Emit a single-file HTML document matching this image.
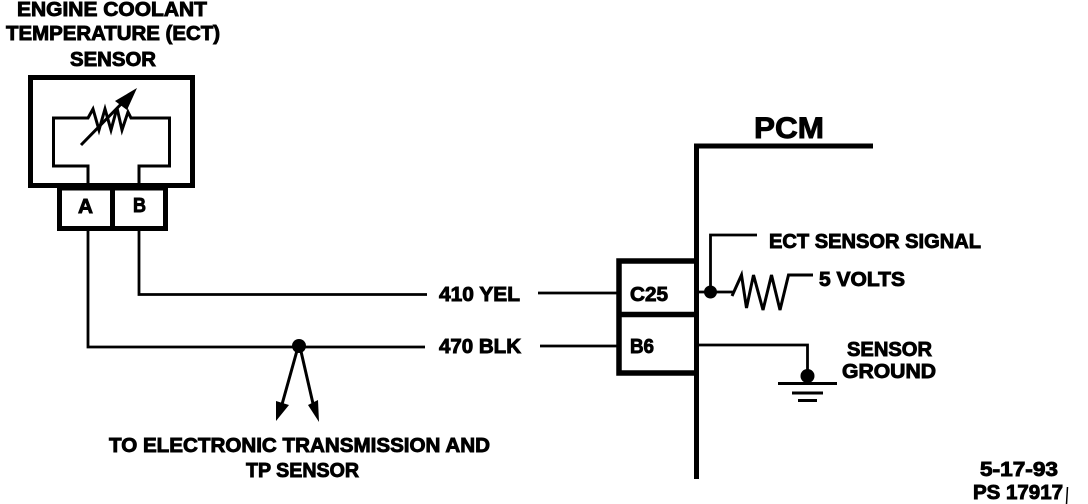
<!DOCTYPE html>
<html><head><meta charset="utf-8"><style>
html,body{margin:0;padding:0;background:#fff;width:1088px;height:504px;overflow:hidden}
svg{display:block}
text{font-family:"Liberation Sans",sans-serif;font-weight:bold;font-size:20px;fill:#000;stroke:#000;stroke-width:.9}
</style></head><body>
<svg width="1088" height="504" viewBox="0 0 1088 504" xmlns="http://www.w3.org/2000/svg">
<g fill="none" stroke="#000" stroke-linejoin="miter">
<rect x="30.5" y="77.500" width="162" height="108" stroke-width="5"/>
<rect x="59.500" y="188" width="106" height="40.500" stroke-width="5"/>
<path d="M112.500 188V228" stroke-width="5"/>
<path d="M88 183V166H53.500V118H88L93 109L99 130L105 109L111 130L117 108L122 130L128 112L131 118H169.500V166H139V183" stroke-width="3"/>
<path d="M81 145L128 97" stroke-width="3"/>
<path d="M88 231V347H425M139 231V294.500H427" stroke-width="2.800"/>
<path d="M538 293H617M540 346H617" stroke-width="2.800"/>
<path d="M696.500 479V146H873" stroke-width="5"/>
<path d="M696 261H619V373H696M619 314.500H696" stroke-width="5.500"/>
<path d="M757 235H710.500V292M699 292H733" stroke-width="2.800"/>
<path d="M732 296L741.500 275L746.500 308L753.500 275L763 310L771.500 275L780 310L788.500 275H813" stroke-width="3"/>
<path d="M699 345H807.500V370" stroke-width="2.800"/>
<path d="M778 383.500H837" stroke-width="3"/>
<path d="M792 393H823" stroke-width="3"/>
<path d="M798 400.500H817" stroke-width="3"/>
<path d="M298 347L281 408M300 347L314 408" stroke-width="3"/>
</g>
<circle cx="710.500" cy="292" r="6.500"/>
<circle cx="807.500" cy="376" r="7"/>
<circle cx="299" cy="346" r="7"/>
<polygon points="137,88 115,101 127,110"/>
<polygon points="276,421 276,401 289,405"/>
<polygon points="319,422 308,405 318,400"/>
<text x="17" y="16" textLength="190" lengthAdjust="spacingAndGlyphs">ENGINE COOLANT</text>
<text x="6" y="40" textLength="214" lengthAdjust="spacingAndGlyphs">TEMPERATURE (ECT)</text>
<text x="70" y="66" textLength="86" lengthAdjust="spacingAndGlyphs">SENSOR</text>
<text x="78" y="213" textLength="15" lengthAdjust="spacingAndGlyphs" font-size="18">A</text>
<text x="133" y="212" textLength="13" lengthAdjust="spacingAndGlyphs" font-size="18">B</text>
<text x="754" y="138" textLength="70" lengthAdjust="spacingAndGlyphs" style="font-size:30px">PCM</text>
<text x="769" y="248" textLength="212" lengthAdjust="spacingAndGlyphs">ECT SENSOR SIGNAL</text>
<text x="819" y="286" textLength="86" lengthAdjust="spacingAndGlyphs">5 VOLTS</text>
<text x="630" y="301" textLength="38" lengthAdjust="spacingAndGlyphs">C25</text>
<text x="630" y="353" textLength="24" lengthAdjust="spacingAndGlyphs">B6</text>
<text x="439" y="301" textLength="81" lengthAdjust="spacingAndGlyphs">410 YEL</text>
<text x="439" y="353" textLength="82" lengthAdjust="spacingAndGlyphs">470 BLK</text>
<text x="847" y="356" textLength="85" lengthAdjust="spacingAndGlyphs">SENSOR</text>
<text x="842" y="378" textLength="94" lengthAdjust="spacingAndGlyphs">GROUND</text>
<text x="109" y="452" textLength="381" lengthAdjust="spacingAndGlyphs">TO ELECTRONIC TRANSMISSION AND</text>
<text x="246" y="477" textLength="113" lengthAdjust="spacingAndGlyphs">TP SENSOR</text>
<text x="980" y="476" textLength="78" lengthAdjust="spacingAndGlyphs">5-17-93</text>
<text x="973" y="499" textLength="90" lengthAdjust="spacingAndGlyphs">PS 17917</text>
<path d="M1067.500 487L1066.500 504" stroke="#000" stroke-width="1.500"/>
</svg>
</body></html>
